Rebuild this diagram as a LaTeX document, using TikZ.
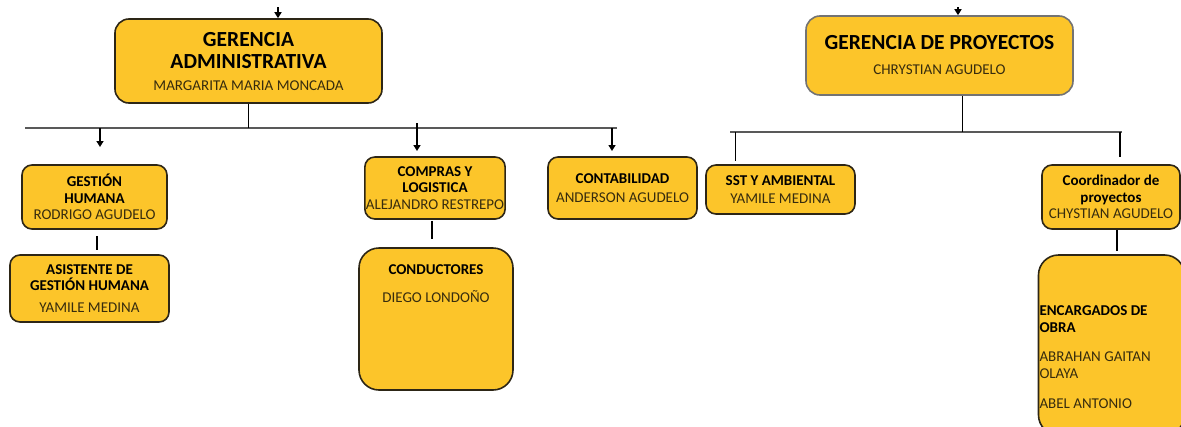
\documentclass[tikz,border=0pt]{standalone}
\usepackage{fontspec}
\setmainfont{Carlito}
\usetikzlibrary{positioning,arrows.meta}
\definecolor{boxfill}{RGB}{252,197,42}
\definecolor{boxline}{RGB}{45,38,22}
\definecolor{nametext}{RGB}{55,44,14}
\newcommand\tit[1]{{\bfseries #1}}
\newcommand\nom[1]{{\color{nametext}#1}}

\begin{document}
\begin{tikzpicture}[x=1pt,y=-1pt,
  unit/.style={draw=boxline,fill=boxfill,line width=1.6pt,rounded corners=10pt,align=center,inner sep=1pt,
    font=\fontsize{15}{16.5}\selectfont},
  bigunit/.style={unit,rounded corners=20pt},
  gerencia/.style={unit,rounded corners=14pt,font=\fontsize{21.5}{22}\selectfont},
  link/.style={line width=1.5pt,draw=black},
  bar/.style={line width=1.2pt,draw=black!65},
  arr/.style={link,-{Triangle[length=6pt,width=7pt]}}]
  \useasboundingbox (0,0) rectangle (1181,426);

  % gerencias
  \node[gerencia,minimum width=267,minimum height=84](ga) at (248.5,61)
    {\tit{GERENCIA}\\\tit{ADMINISTRATIVA}\\{\fontsize{15}{16}\selectfont\nom{MARGARITA MARIA MONCADA}}};
  \node[gerencia,draw=black!55,minimum width=267,minimum height=79](gp) at (939.5,55.5)
    {\tit{GERENCIA DE PROYECTOS}\\[3pt]{\fontsize{15}{16}\selectfont\nom{CHRYSTIAN AGUDELO}}};

  % area administrativa
  \node[unit,minimum width=145,minimum height=64](gh) at (94.5,197)
    {\tit{GESTIÓN}\\\tit{HUMANA}\\\nom{RODRIGO AGUDELO}};
  \node[unit,minimum width=159,minimum height=67](agh) at (89.5,288.5)
    {\tit{ASISTENTE DE}\\\tit{GESTIÓN HUMANA}\\[5pt]\nom{YAMILE MEDINA}};
  \node[unit,minimum width=140,minimum height=62](cyl) at (435,188)
    {\tit{COMPRAS Y}\\\tit{LOGISTICA}\\\nom{ALEJANDRO RESTREPO}};
  \node[bigunit,minimum width=154,minimum height=142](cond) at (436,319)
    {\tit{CONDUCTORES}\\[11pt]\nom{DIEGO LONDOÑO}\\[54pt]\mbox{}};
  \node[unit,minimum width=149,minimum height=62](cont) at (622.5,188)
    {\tit{CONTABILIDAD}\\[3pt]\nom{ANDERSON AGUDELO}};

  % area proyectos
  \node[unit,minimum width=149,minimum height=49](sst) at (780.5,189.5)
    {\tit{SST Y AMBIENTAL}\\[2pt]\nom{YAMILE MEDINA}};
  \node[unit,minimum width=138,minimum height=64](coord) at (1111,197)
    {\tit{Coordinador de}\\\tit{proyectos}\\\nom{CHYSTIAN AGUDELO}};
  \node[bigunit,align=flush left,text width=144,minimum height=180](enc) at (1111.5,345)
    {\mbox{}\\[18pt]\tit{ENCARGADOS DE}\\\tit{OBRA}\\[13pt]\nom{ABRAHAN GAITAN}\\\nom{OLAYA}\\[14pt]\nom{ABEL ANTONIO}};

  % conectores
  \coordinate (gatop) at (278,7);
  \coordinate (gptop) at (958,7);
  \draw[arr] (gatop) -- (gatop |- ga.north);
  \draw[arr] (gptop) -- (gptop |- gp.north);

  \coordinate (barA) at (25,128);
  \coordinate (barB) at (617,128);
  \draw[bar] (barA) -- (barB);
  \draw[link] (ga.south) -- (ga.south |- barA);
  \coordinate (ghin) at (100,147);
  \coordinate (cylin) at (417,151);
  \coordinate (contin) at (612,151);
  \draw[arr] (ghin |- barA) -- (ghin);
  \draw[arr] ([yshift=5]cylin |- barA) -- (cylin);
  \draw[arr] (contin |- barA) -- (contin);
  \draw[link,shorten <=6pt,shorten >=4pt] ([xshift=2.5]gh.south) -- ([xshift=2.5]gh.south |- agh.north);
  \draw[link,shorten <=1pt,shorten >=8pt] ([xshift=-3]cyl.south) -- ([xshift=-3]cyl.south |- cond.north);

  \coordinate (barC) at (730,132);
  \coordinate (barD) at (1122,132);
  \draw[bar] (barC) -- (barD);
  \draw[link] ([xshift=23]gp.south) -- ([xshift=23]gp.south |- barC);
  \draw[link,shorten >=3pt] ([xshift=-45]sst.north |- barC) -- ([xshift=-45]sst.north);
  \draw[link,shorten >=7pt] ([xshift=9]coord.north |- barC) -- ([xshift=9]coord.north);
  \draw[link,shorten >=3pt] ([xshift=6]coord.south) -- ([xshift=6]coord.south |- enc.north);
\end{tikzpicture}
\end{document}
